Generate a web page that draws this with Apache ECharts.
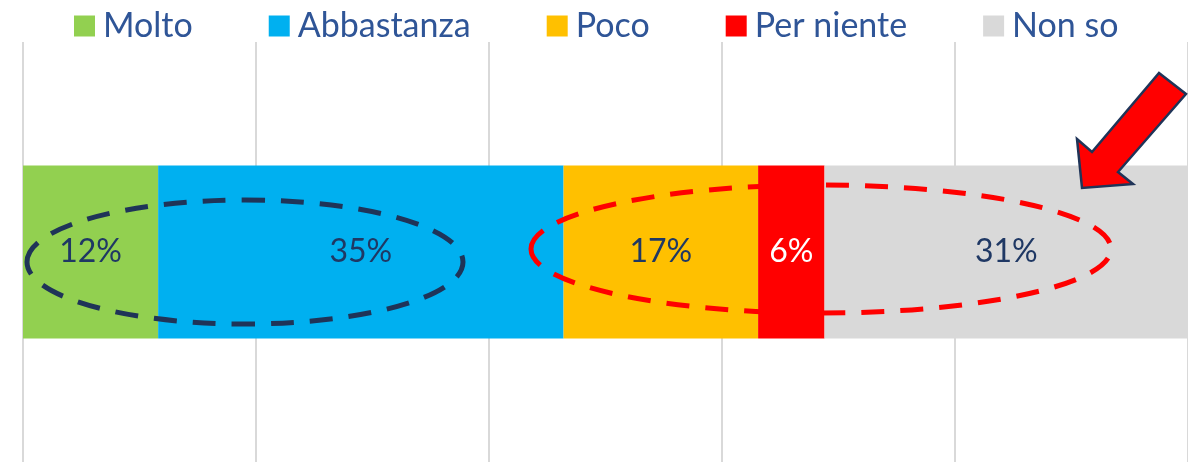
<!DOCTYPE html>
<html style="height: 100%">
<head>
<meta charset="utf-8">
<script src="https://cdn.jsdelivr.net/npm/echarts@6/dist/echarts.min.js"></script>
</head>
<body style="height: 100%; margin: 0; background: #fff;">
<div id="container" style="width: 1188px; height: 462px;"></div>
<script type="text/javascript">
// dati (larghezze dei segmenti, %)
var categorie = ['Totale'];
var serieNomi = ['Molto', 'Abbastanza', 'Poco', 'Per niente', 'Non so'];
var serieValori = [11.6, 34.8, 16.7, 5.7, 31.2];
var serieColori = ['#92D050', '#00B0F0', '#FFC000', '#FF0000', '#D9D9D9'];
var etichetteColori = ['#1F3864', '#1F3864', '#1F3864', '#ffffff', '#1F3864'];
var tickAsse = [0, 20, 40, 60, 80, 100];

var FONT = 'Lato';
var dom = document.getElementById('container');
var myChart = echarts.init(dom);

var series = serieNomi.map(function (nome, i) {
    return {
        name: nome,
        type: 'bar',
        stack: 'tot',
        barWidth: 173,
        itemStyle: {color: serieColori[i]},
        label: {
            show: true,
            position: 'inside',
            fontFamily: FONT,
            fontSize: 32,
            color: etichetteColori[i],
            formatter: function (p) { return Math.round(p.value) + '%'; }
        },
        data: [serieValori[i]]
    };
});

var option = {
    animation: false,
    legend: {
        top: 4,
        left: 69,
        icon: 'rect',
        itemWidth: 21,
        itemHeight: 21,
        itemGap: 76,
        textStyle: {fontFamily: FONT, fontSize: 34, color: '#2F5597', padding: [0, 0, 0, 3]},
        data: serieNomi
    },
    grid: {left: 23, right: 0, top: 42, bottom: 0, containLabel: false},
    xAxis: {
        type: 'value',
        min: tickAsse[0],
        max: tickAsse[tickAsse.length - 1],
        interval: 20,
        axisLabel: {show: false},
        axisTick: {show: false},
        axisLine: {show: false},
        splitLine: {lineStyle: {color: '#D9D9D9', width: 2}}
    },
    yAxis: {
        type: 'category',
        data: categorie,
        axisLabel: {show: false},
        axisTick: {show: false},
        axisLine: {show: false}
    },
    series: series,
    graphic: [
        {
            type: 'ellipse',
            z: 100,
            shape: {cx: 245, cy: 262, rx: 218, ry: 62},
            style: {fill: 'none', stroke: '#1F3458', lineWidth: 5, lineDash: [23, 16]}
        },
        {
            type: 'ellipse',
            z: 100,
            shape: {cx: 821, cy: 249, rx: 290, ry: 64},
            style: {fill: 'none', stroke: '#FF0000', lineWidth: 5, lineDash: [23, 16]}
        },
        {
            type: 'polygon',
            z: 101,
            shape: {points: [[1159, 73], [1186, 94], [1118, 172], [1133, 184], [1082, 188], [1077, 139], [1092, 152]]},
            style: {fill: '#FF0000', stroke: '#1F3458', lineWidth: 2.5}
        }
    ]
};

myChart.setOption(option, true);
</script>
</body>
</html>
